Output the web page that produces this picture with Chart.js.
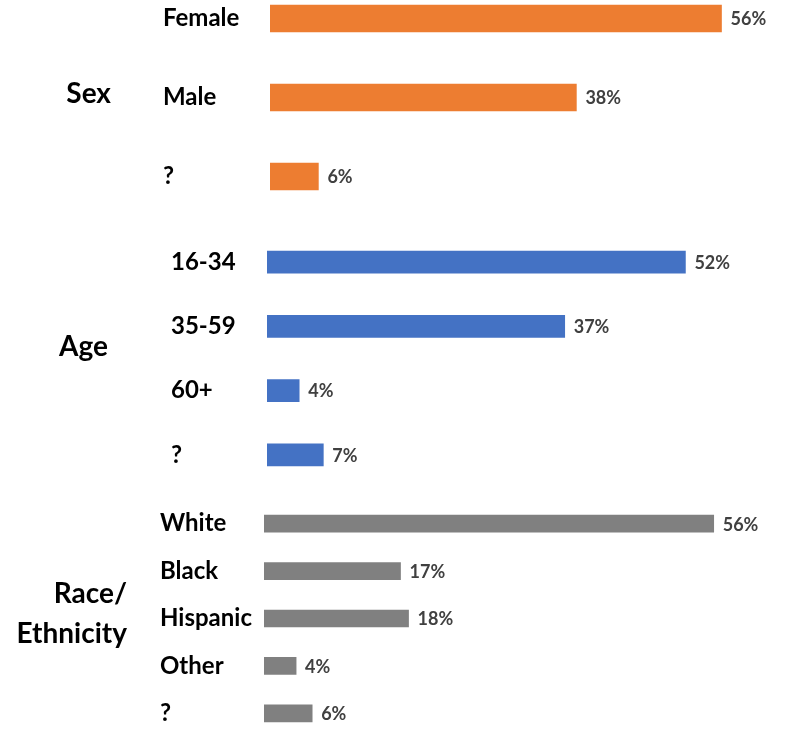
<!DOCTYPE html>
<html>
<head>
<meta charset="utf-8">
<script src="https://cdn.jsdelivr.net/npm/chart.js@4"></script>
<style>
    html, body { margin: 0; padding: 0; background: #fff; overflow: hidden; }
    body { width: 786px; height: 733px; position: relative; font-family: Lato, sans-serif; }
    .box { position: absolute; left: 0; width: 786px; }
    .group { position: absolute; font-weight: bold; font-size: 28px; color: #000; line-height: 40px; }
</style>
</head>
<body>
<div class="box" style="top:-21px;height:237px"><canvas id="sexChart"></canvas></div>
<div class="box" style="top:230px;height:257px"><canvas id="ageChart"></canvas></div>
<div class="box" style="top:500px;height:237px"><canvas id="raceChart"></canvas></div>

<div class="group" style="left:0;width:111px;top:72px;text-align:right">Sex</div>
<div class="group" style="left:0;width:108px;top:325px;text-align:right">Age</div>
<div class="group" style="left:0;width:127px;top:572px;text-align:right">Race/<br>Ethnicity</div>

<script>
// Data
var sexLabels = ['Female', 'Male', '?'];
var sexValues = [56, 38, 6];

var ageLabels = ['16-34', '35-59', '60+', '?'];
var ageValues = [52, 37, 4, 7];

var raceLabels = ['White', 'Black', 'Hispanic', 'Other', '?'];
var raceValues = [56, 17, 18, 4, 6];

// draws "56%" etc. just past the end of each bar
var valueLabels = {
    id: 'valueLabels',
    afterDatasetsDraw: function(chart) {
        var ctx = chart.ctx;
        var meta = chart.getDatasetMeta(0);
        ctx.save();
        ctx.font = 'bold 18px Lato, sans-serif';
        ctx.fillStyle = '#404040';
        ctx.textAlign = 'left';
        ctx.textBaseline = 'middle';
        meta.data.forEach(function(bar, i) {
            ctx.fillText(chart.data.datasets[0].data[i] + '%', bar.x + 9, bar.y + 1);
        });
        ctx.restore();
    }
};

function makeChart(id, labels, values, color, thickness, labelLeft, barLeft, xMax) {
    var ctx = document.getElementById(id).getContext('2d');
    return new Chart(ctx, {
        type: 'bar',
        data: {
            labels: labels,
            datasets: [{
                data: values,
                backgroundColor: color,
                borderWidth: 0,
                barThickness: thickness
            }]
        },
        options: {
            indexAxis: 'y',
            responsive: true,
            maintainAspectRatio: false,
            animation: false,
            layout: { padding: { left: labelLeft, right: 0, top: 0, bottom: 0 } },
            plugins: {
                legend: { display: false },
                tooltip: { enabled: false }
            },
            scales: {
                x: {
                    display: false,
                    min: 0,
                    max: xMax
                },
                y: {
                    grid: { display: false },
                    border: { display: false },
                    ticks: {
                        crossAlign: 'far',
                        color: '#000',
                        font: { family: 'Lato, sans-serif', size: 24, weight: 'bold' }
                    },
                    afterFit: function(scale) {
                        scale.width = barLeft - labelLeft;
                        // keep the bands evenly over the full box height
                        scale.paddingTop = 0;
                        scale.paddingBottom = 0;
                    }
                }
            }
        },
        plugins: [valueLabels]
    });
}

document.addEventListener('DOMContentLoaded', function() {
    makeChart('sexChart', sexLabels, sexValues, '#ED7D31', 27, 163, 270, 64);
    makeChart('ageChart', ageLabels, ageValues, '#4472C4', 22, 171, 267, 64.5);
    makeChart('raceChart', raceLabels, raceValues, '#808080', 17, 160, 264, 65);
});
</script>
</body>
</html>
